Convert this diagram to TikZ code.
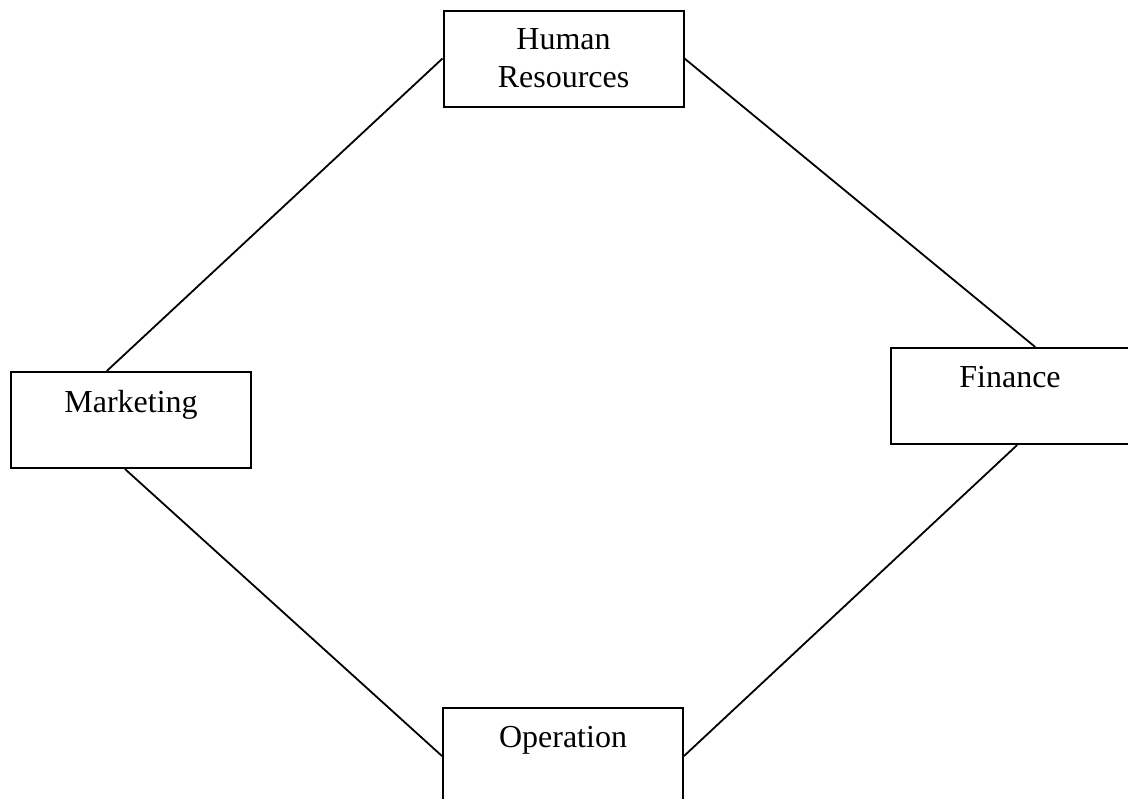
\documentclass[tikz,border=0pt]{standalone}
\usepackage{fontspec}
\setmainfont{Liberation Serif}
\usetikzlibrary{calc}

\begin{document}
\begin{tikzpicture}[x=0.5pt,y=-0.5pt]
			\tikzset{dept/.style={draw,line width=1pt,rectangle,minimum width=120pt,minimum height=48pt,inner sep=0pt,align=center,font=\fontsize{16}{19}\selectfont},
				link/.style={draw,line width=0.9pt}}
			\clip (0,0) rectangle (1128,798);
			\useasboundingbox (0,0) rectangle (1128,798);
			\node[dept] (hr) at (563.5,58.5) {Human\\Resources};
			\node[dept] (mkt) at (131,420) {Marketing\\\mbox{}};
			\node[dept,minimum width=119pt] (fin) at (1010,396) {Finance\\\mbox{}};
			\node[dept] (ops) at (563,756) {Operation\\\mbox{}};
			\path[link] (hr.west) -- ($(mkt.north west)!0.4!(mkt.north east)$);
			\path[link] (hr.east) -- ($(fin.north west)!0.605!(fin.north east)$);
			\path[link] ($(mkt.south west)!0.475!(mkt.south east)$) -- (ops.west);
			\path[link] ($(fin.south west)!0.53!(fin.south east)$) -- (ops.east);
		\end{tikzpicture}
\end{document}
